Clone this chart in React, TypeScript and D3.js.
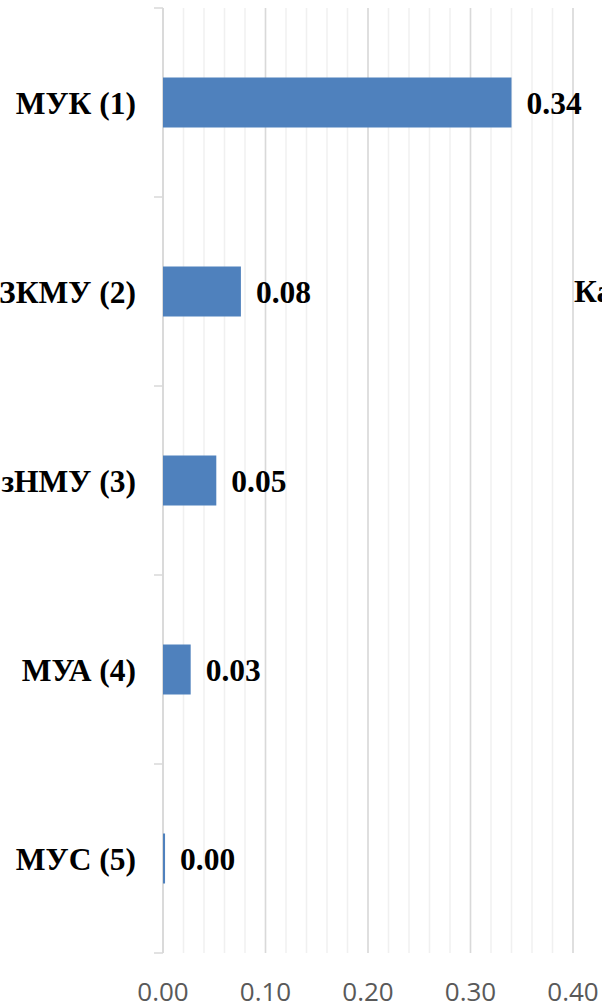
import React from "react";
import * as d3 from "d3";

const categories = ["МУК (1)", "ЗКМУ (2)", "зНМУ (3)", "МУА (4)", "МУС (5)"];
const values = [0.34, 0.076, 0.052, 0.027, 0.002];
const valueLabels = ["0.34", "0.08", "0.05", "0.03", "0.00"];
const majorTicks = [0, 0.1, 0.2, 0.3, 0.4];
const sideText = "Ка";

const W = 602;
const H = 1007;

export default function App() {
  const x = d3.scaleLinear().domain([0, 0.4]).range([163, 573]);
  const y = d3.scaleBand<string>().domain(categories).range([8, 953]).paddingInner(0).paddingOuter(0);
  const minor = d3.range(0, 0.4001, 0.02);
  const barH = 50;
  const serif = "'Liberation Serif', 'Times New Roman', serif";
  return (
    <svg
      width={W}
      height={H}
      style={{ position: "absolute", left: 0, top: 0, background: "#fff" }}
      xmlns="http://www.w3.org/2000/svg"
    >
      {minor.map((t, i) => (
        <line key={"mi" + i} x1={x(t)} x2={x(t)} y1={8} y2={953} stroke="#f0f0f0" strokeWidth={1.5} />
      ))}
      {majorTicks.map((t, i) => (
        <line key={"ma" + i} x1={x(t)} x2={x(t)} y1={8} y2={953} stroke="#d9d9d9" strokeWidth={1.5} />
      ))}
      <line x1={163} x2={163} y1={8} y2={953} stroke="#d9d9d9" strokeWidth={1.5} />
      {[...categories.map((c) => y(c)!), 953].map((v, i) => (
        <line key={"ct" + i} x1={154} x2={163} y1={v} y2={v} stroke="#d9d9d9" strokeWidth={1.5} />
      ))}
      {categories.map((c, i) => {
        const cy = y(c)! + y.bandwidth() / 2;
        return (
          <g key={c}>
            <rect x={x(0)} y={cy - barH / 2} width={x(values[i]) - x(0)} height={barH} fill="#4f81bd" />
            <text
              x={136}
              y={cy + 11}
              textAnchor="end"
              fontFamily={serif}
              fontWeight="bold"
              fontSize={31.5}
              fill="#000"
            >
              {c}
            </text>
            <text
              x={x(values[i]) + 15}
              y={cy + 11}
              fontFamily={serif}
              fontWeight="bold"
              fontSize={31.5}
              fill="#000"
            >
              {valueLabels[i]}
            </text>
          </g>
        );
      })}
      {majorTicks.map((t, i) => (
        <text
          key={"tl" + i}
          x={x(t)}
          y={1001}
          textAnchor="middle"
          fontFamily="'Open Sans', sans-serif"
          fontSize={26}
          fill="#595959"
        >
          {t.toFixed(2)}
        </text>
      ))}
      <text x={574} y={302} fontFamily={serif} fontWeight="bold" fontSize={31.5} fill="#000">
        {sideText}
      </text>
    </svg>
  );
}
